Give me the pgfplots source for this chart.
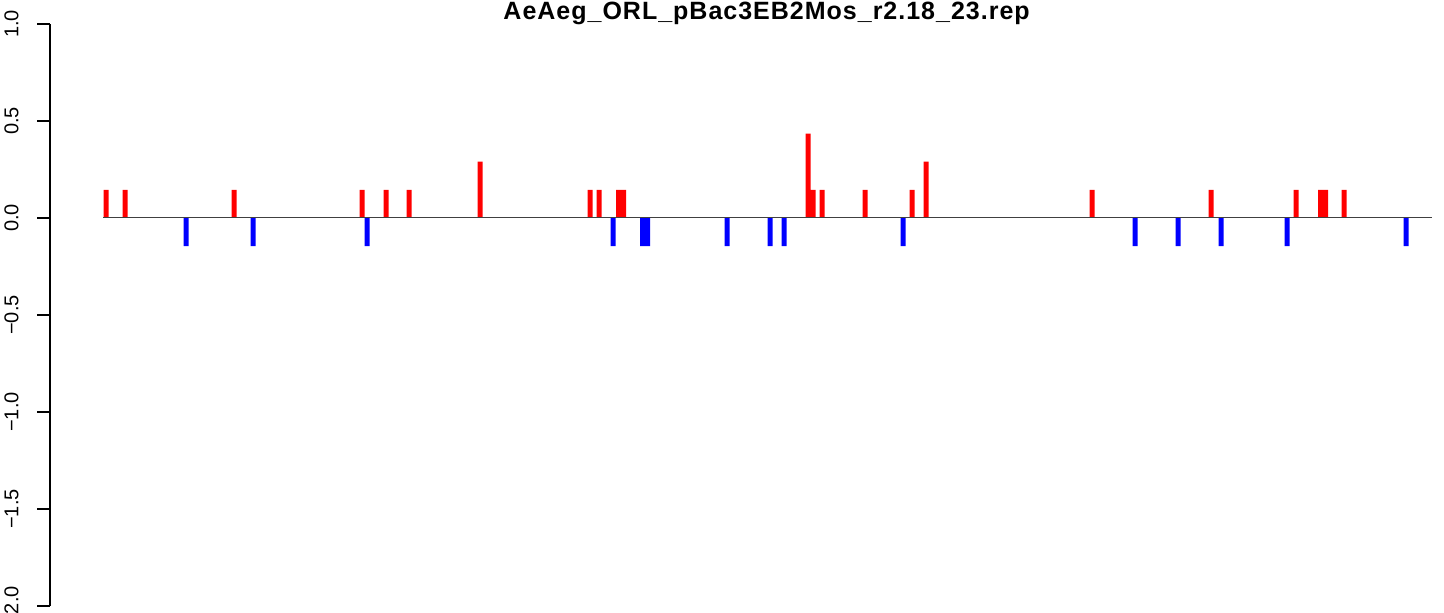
\documentclass[border=0pt]{standalone}
\usepackage{fontspec}
\setmainfont{Liberation Sans}
\usepackage{pgfplots}
\pgfplotsset{compat=1.18}
\definecolor{rred}{RGB}{255,0,0}
\definecolor{rblue}{RGB}{0,0,255}
\begin{document}
\begin{tikzpicture}
\path[use as bounding box] (0pt,-3.5pt) rectangle (722pt,303pt);
\begin{axis}[
  at={(25pt,0pt)}, anchor=south west,
  scale only axis,
  width=697pt, height=291pt,
  xmin=50, xmax=1444,
  ymin=-2, ymax=1,
  axis x line=none,
  axis y line*=left,
  axis line style={black, line width=0.55pt},
  ytick={-2,-1.5,-1,-0.5,0,0.5,1},
  yticklabels={−2.0,−1.5,−1.0,−0.5,0.0,0.5,1.0},
  tick align=outside,
  major tick length=6.5pt,
  ytick style={black, line width=0.55pt},
  yticklabel style={rotate=90, anchor=south, inner sep=0pt, yshift=9pt, font=\fontsize{10}{11}\selectfont},
  clip=false,
]
\addplot[ybar, bar width=5, bar shift=0pt, fill=rred, draw=none] coordinates {
(106,0.145) (125,0.145) (234,0.145) (362,0.145) (386,0.145) (409,0.145)
(590,0.145) (599,0.145) (618.5,0.145) (623.5,0.145) (813,0.145) (822,0.145)
(865,0.145) (912,0.145) (1092,0.145) (1211,0.145) (1296,0.145)
(1320.5,0.145) (1325.5,0.145) (1344,0.145)
(480,0.29) (926,0.29) (808,0.435)
};
\addplot[ybar, bar width=5, bar shift=0pt, fill=rblue, draw=none] coordinates {
(186,-0.145) (253,-0.145) (367,-0.145) (613,-0.145) (642.5,-0.145) (647.5,-0.145)
(727,-0.145) (770,-0.145) (784,-0.145) (903,-0.145) (1135,-0.145) (1178,-0.145)
(1221,-0.145) (1287,-0.145) (1406,-0.145)
};
\addplot[black!75, line width=0.5pt] coordinates {(103,0) (1432,0)};
\end{axis}
\node[anchor=base, inner sep=0pt, font=\bfseries\fontsize{12.5}{13}\selectfont\addfontfeature{LetterSpace=4}] at (383.3pt,293.3pt) {AeAeg\_ORL\_pBac3EB2Mos\_r2.18\_23.rep};
\end{tikzpicture}
\end{document}
